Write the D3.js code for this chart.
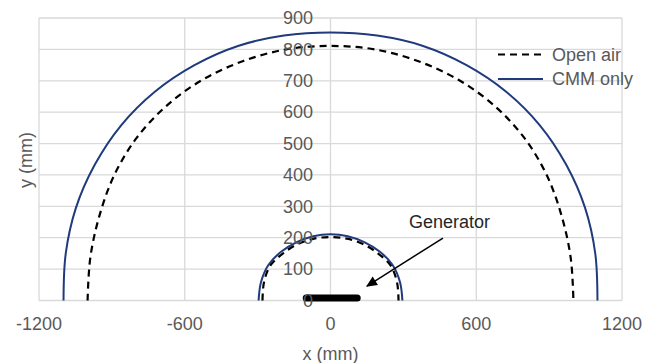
<!DOCTYPE html>
<html>
<head>
<meta charset="utf-8">
<script src="https://cdn.jsdelivr.net/npm/d3@7"></script>
<style>
  body { margin: 0; background: #fff; }
  svg { display: block; font-family: "Liberation Sans", Arial, sans-serif; }
</style>
</head>
<body>
<svg id="chart" width="656" height="363"></svg>
<script>
// ---- data ----
const xTicks = [-1200, -600, 0, 600, 1200];
const yTicks = [0, 100, 200, 300, 400, 500, 600, 700, 800, 900];
const seriesNames = ["Open air", "CMM only"];

// Open air: outer boundary
const openAirOuterX = [-1000, -989, -952, -891, -798, -674, -525, -359, -182, 0, 182, 359, 525, 674, 798, 891, 952, 989, 1000];
const openAirOuterY = [0, 135, 268, 398, 518, 621, 704, 763, 800, 811, 800, 763, 704, 621, 518, 398, 268, 135, 0];
// Open air: inner boundary
const openAirInnerX = [-280, -274, -248, -194, -134, -68, 0, 68, 134, 194, 248, 274, 280];
const openAirInnerY = [0, 57, 111, 151, 180, 197, 202, 197, 180, 151, 111, 57, 0];

// CMM only: outer boundary
const cmmOuterX = [-1099, -1090, -1048, -970, -861, -722, -560, -381, -192, 0, 192, 381, 560, 722, 861, 970, 1048, 1090, 1099];
const cmmOuterY = [0, 149, 295, 433, 559, 666, 750, 811, 844, 854, 844, 811, 750, 666, 559, 433, 295, 149, 0];
// CMM only: inner boundary
const cmmInnerX = [-296, -286, -255, -202, -139, -71, 0, 71, 139, 202, 255, 286, 296];
const cmmInnerY = [0, 59, 114, 156, 186, 205, 211, 205, 186, 156, 114, 59, 0];

// Generator footprint
const generatorX = [-100, 110];
const generatorY = [8, 8];
// Annotation arrow (tail -> head), data coordinates
const arrowX = [463, 150];
const arrowY = [199, 46];

// ---- layout ----
const svg = d3.select("#chart");
const x = d3.scaleLinear().domain([-1200, 1200]).range([39, 622]);
const y = d3.scaleLinear().domain([0, 900]).range([300.5, 18]);
const gridColor = "#d9d9d9";
const textColor = "#595959";

// gridlines
svg.append("g").selectAll("line.h").data(yTicks).join("line")
  .attr("x1", x(-1200)).attr("x2", x(1200))
  .attr("y1", d => y(d)).attr("y2", d => y(d))
  .attr("stroke", gridColor).attr("stroke-width", 1.3);
svg.append("g").selectAll("line.v").data(xTicks).join("line")
  .attr("y1", y(0)).attr("y2", y(900))
  .attr("x1", d => x(d)).attr("x2", d => x(d))
  .attr("stroke", gridColor).attr("stroke-width", 1.3);

// series
const zip = (xs, ys) => xs.map((v, i) => [v, ys[i]]);
const line = d3.line().x(d => x(d[0])).y(d => y(d[1])).curve(d3.curveCatmullRom.alpha(0.5));

const navy = "#1f3a7d";
[zip(cmmOuterX, cmmOuterY), zip(cmmInnerX, cmmInnerY)].forEach(pts => {
  svg.append("path").attr("d", line(pts)).attr("fill", "none")
    .attr("stroke", navy).attr("stroke-width", 2);
});
[zip(openAirOuterX, openAirOuterY), zip(openAirInnerX, openAirInnerY)].forEach(pts => {
  svg.append("path").attr("d", line(pts)).attr("fill", "none")
    .attr("stroke", "#000").attr("stroke-width", 2.2).attr("stroke-dasharray", "7,5");
});

// generator bar
svg.append("line")
  .attr("x1", x(generatorX[0])).attr("x2", x(generatorX[1]))
  .attr("y1", y(generatorY[0])).attr("y2", y(generatorY[1]))
  .attr("stroke", "#000").attr("stroke-width", 7).attr("stroke-linecap", "round");

// y tick labels (next to x=0 axis)
svg.append("g").selectAll("text").data(yTicks).join("text")
  .attr("x", 313).attr("y", d => y(d)).attr("dy", "0.35em")
  .attr("text-anchor", "end").attr("font-size", 18).attr("fill", textColor)
  .text(d => d);

// x tick labels
svg.append("g").selectAll("text").data(xTicks).join("text")
  .attr("x", d => x(d)).attr("y", 330)
  .attr("text-anchor", "middle").attr("font-size", 18).attr("fill", textColor)
  .text(d => d);

// axis titles
svg.append("text").attr("x", x(0)).attr("y", 360).attr("text-anchor", "middle")
  .attr("font-size", 18).attr("fill", textColor).text("x (mm)");
svg.append("text").attr("transform", "translate(32,160) rotate(-90)")
  .attr("text-anchor", "middle").attr("font-size", 18).attr("fill", textColor).text("y (mm)");

// legend
const lg = svg.append("g");
lg.append("line").attr("x1", 498).attr("x2", 543).attr("y1", 54.5).attr("y2", 54.5)
  .attr("stroke", "#000").attr("stroke-width", 2.2).attr("stroke-dasharray", "7,5");
lg.append("text").attr("x", 552).attr("y", 54.5).attr("dy", "0.35em")
  .attr("font-size", 18).attr("fill", textColor).text(seriesNames[0]);
lg.append("line").attr("x1", 498).attr("x2", 543).attr("y1", 79).attr("y2", 79)
  .attr("stroke", navy).attr("stroke-width", 2);
lg.append("text").attr("x", 552).attr("y", 79).attr("dy", "0.35em")
  .attr("font-size", 18).attr("fill", textColor).text(seriesNames[1]);

// annotation
svg.append("defs").append("marker").attr("id", "arrow")
  .attr("viewBox", "0 0 10 10").attr("refX", 9).attr("refY", 5)
  .attr("markerWidth", 12).attr("markerHeight", 11).attr("markerUnits", "userSpaceOnUse")
  .attr("orient", "auto")
  .append("path").attr("d", "M0,0.5 L10,5 L0,9.5 z").attr("fill", "#000");
svg.append("line")
  .attr("x1", x(arrowX[0])).attr("y1", y(arrowY[0]))
  .attr("x2", x(arrowX[1])).attr("y2", y(arrowY[1]))
  .attr("stroke", "#000").attr("stroke-width", 1.5).attr("marker-end", "url(#arrow)");
svg.append("text").attr("x", 409).attr("y", 228)
  .attr("font-size", 18).attr("fill", "#262626").text("Generator");
</script>
</body>
</html>
